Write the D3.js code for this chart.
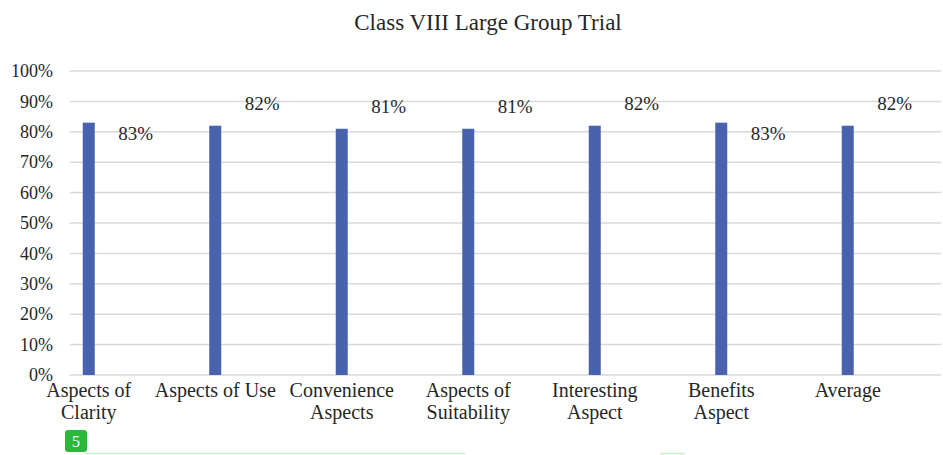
<!DOCTYPE html>
<html>
<head>
<meta charset="utf-8">
<script src="https://cdn.jsdelivr.net/npm/d3@7/dist/d3.min.js"></script>
<style>
  body { margin: 0; background: #fff; }
  svg text { font-family: "Liberation Serif", "Times New Roman", Times, "DejaVu Serif", serif; fill: #262626; }
</style>
</head>
<body>
<div id="chart"></div>
<script>
var categories = [["Aspects of", "Clarity"], ["Aspects of Use"], ["Convenience", "Aspects"],
  ["Aspects of", "Suitability"], ["Interesting", "Aspect"], ["Benefits", "Aspect"], ["Average"]];
var values = [83, 82, 81, 81, 82, 83, 82];
var yTicks = [0, 10, 20, 30, 40, 50, 60, 70, 80, 90, 100];

(function() {
  var width = 943, height = 455;
  var serif = "'Liberation Serif', 'Times New Roman', Times, serif";

  var svg = d3.select("#chart")
    .append("svg")
    .attr("width", width)
    .attr("height", height)
    .attr("font-family", serif);

  var names = categories.map(function(d) { return d.join(" "); });

  var xPositionScale = d3.scaleBand().domain(names).range([25.5, 911]);
  var yPositionScale = d3.scaleLinear().domain([0, 100]).range([375, 71]);

  // title
  svg.append("text")
    .attr("x", 488)
    .attr("y", 30)
    .attr("text-anchor", "middle")
    .attr("font-size", 23)
    .text("Class VIII Large Group Trial");

  // gridlines
  svg.selectAll(".grid")
    .data(yTicks)
    .enter()
    .append("line")
    .attr("class", "grid")
    .attr("x1", 70)
    .attr("x2", 941)
    .attr("y1", function(d) { return yPositionScale(d); })
    .attr("y2", function(d) { return yPositionScale(d); })
    .attr("stroke", "#d9d9d9")
    .attr("stroke-width", 1.5);

  // y axis labels
  var yAxis = d3.axisLeft(yPositionScale)
    .tickValues(yTicks)
    .tickSize(0)
    .tickPadding(0)
    .tickFormat(function(d) { return d + "%"; });
  var yg = svg.append("g")
    .attr("class", "axis y-axis")
    .attr("transform", "translate(53,0)")
    .call(yAxis)
    .attr("font-family", serif)
    .attr("font-size", 18);
  yg.select(".domain").remove();
  yg.selectAll("text").attr("fill", "#262626");

  // bars
  var barW = 12;
  svg.selectAll(".bar")
    .data(values)
    .enter()
    .append("rect")
    .attr("class", "bar")
    .attr("x", function(d, i) { return xPositionScale(names[i]) + xPositionScale.bandwidth() / 2 - barW / 2; })
    .attr("width", barW)
    .attr("y", function(d) { return yPositionScale(d); })
    .attr("height", function(d) { return yPositionScale(0) - yPositionScale(d); })
    .attr("fill", "#4862ae");

  // value labels (placed like the original, some below the bar top)
  var labelDy = [17, -16, -16, -16, -16, 17, -16];
  svg.selectAll(".val")
    .data(values)
    .enter()
    .append("text")
    .attr("class", "val")
    .attr("x", function(d, i) { return xPositionScale(names[i]) + xPositionScale.bandwidth() / 2 + 47; })
    .attr("y", function(d, i) { return yPositionScale(d) + labelDy[i]; })
    .attr("text-anchor", "middle")
    .attr("font-size", 19)
    .text(function(d) { return d + "%"; });

  // category labels
  var cat = svg.selectAll(".cat")
    .data(categories)
    .enter()
    .append("text")
    .attr("class", "cat")
    .attr("text-anchor", "middle")
    .attr("font-size", 20)
    .attr("transform", function(d, i) {
      return "translate(" + (xPositionScale(names[i]) + xPositionScale.bandwidth() / 2) + ",397)";
    });
  cat.selectAll("tspan")
    .data(function(d) { return d; })
    .enter()
    .append("tspan")
    .attr("x", 0)
    .attr("dy", function(d, i) { return i === 0 ? 0 : 22; })
    .text(function(d) { return d; });

  // page marker below the chart
  svg.append("line").attr("x1", 85).attr("x2", 465).attr("y1", 453.5).attr("y2", 453.5)
    .attr("stroke", "#c6efc6").attr("stroke-width", 1.5);
  svg.append("line").attr("x1", 660).attr("x2", 685).attr("y1", 453.5).attr("y2", 453.5)
    .attr("stroke", "#c6efc6").attr("stroke-width", 1.5);
  svg.append("rect").attr("x", 65).attr("y", 430).attr("width", 22).attr("height", 22)
    .attr("rx", 3).attr("fill", "#2eb83a");
  svg.append("text").attr("x", 76).attr("y", 447).attr("text-anchor", "middle")
    .attr("font-size", 16).attr("font-family", "'DejaVu Sans', sans-serif").style("fill", "#fff").text("5");
})();
</script>
</body>
</html>
